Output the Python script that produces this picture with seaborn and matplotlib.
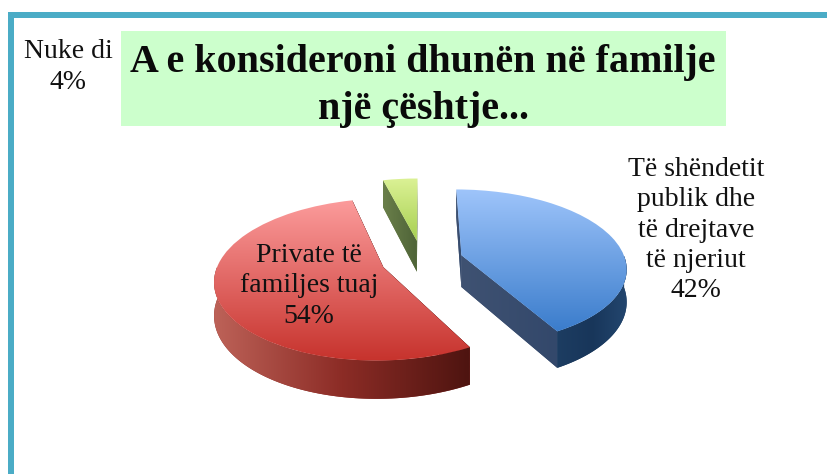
import numpy as np
import matplotlib
matplotlib.use("Agg")
import matplotlib.pyplot as plt
import seaborn as sns
from matplotlib.patches import PathPatch, Rectangle
from matplotlib.path import Path
from matplotlib.transforms import Transform

# ---- data ----
categories = ["Të shëndetit\npublik dhe\ntë drejtave\ntë njeriut", "Private të\nfamiljes tuaj", "Nuke di"]
values = [42, 54, 4]
explode = [0.25, 0.25, 0.26]
title_text = "A e konsideroni dhunën në familje\nnjë çështje..."

top_colors = [["#9fc5fb", "#3a7ccb"], ["#fc9c9c", "#c6322c"], ["#dcf296", "#a6cf50"]]
arc_colors = [["#1d3d62", "#18365a", "#23466f"], ["#bd6258", "#8c2c26", "#4e1410"], ["#5c7040", "#5c7040"]]
face_colors = [["#3f5272", "#33486b"], ["#4e1410", "#4e1410"], ["#6a7f4a", "#4f6438"]]

# ---- style ----
sns.set_theme(style="white")
plt.rcParams["font.family"] = ["Liberation Serif", "DejaVu Serif"]

W, H = 827, 474
CX, CY = 422.0, 260.0   # pie centre on the canvas
RX, RY = 164.0, 77.0    # radii of the tilted pie
PERSP = 0.15
DEPTH = 32.0


def project(u, v, d=0.0):
    u, v = np.asarray(u, float), np.asarray(v, float)
    w = 1 + PERSP * v
    return CX + RX * u / w, CY - RY * v / w + d / w


class Tilt(Transform):
    input_dims = output_dims = 2
    is_separable = False
    has_inverse = False

    def transform_non_affine(self, xy):
        xy = np.asarray(xy, float)
        return np.column_stack(project(xy[:, 0], xy[:, 1]))


fig = plt.figure(figsize=(W / 100, H / 100), dpi=100)
ax = fig.add_axes([0, 0, 1, 1])
wedges, _ = ax.pie(values, explode=explode, startangle=90, counterclock=False,
                   radius=1, wedgeprops=dict(facecolor="none", edgecolor="none"))
tilt = Tilt() + ax.transData


def gradient(patch, colors, horizontal, z):
    """Fill a patch with a seaborn blended gradient spanning its own extent."""
    verts = patch.get_path().vertices
    xs, ys = verts[:, 0], verts[:, 1]
    cmap = sns.blend_palette(colors, as_cmap=True)
    g = np.linspace(0, 1, 256)
    arr = g[None, :] if horizontal else g[:, None]
    im = ax.imshow(arr, cmap=cmap, aspect="auto", origin="upper", zorder=z, interpolation="bilinear",
                   extent=(xs.min(), xs.max(), ys.max(), ys.min()))
    im.set_clip_path(patch)


def poly(pts):
    pts = np.asarray(pts)
    return Path(np.vstack([pts, pts[:1]]), closed=True)


draw_order = [2, 0, 1]
z = 3
for i in draw_order:
    w = wedges[i]
    w.set_transform(tilt)
    cu, cv = w.center
    t1, t2 = w.theta1, w.theta2
    # extruded radial faces
    for a in (t2, t1):
        ru, rv = cu + w.r * np.cos(np.radians(a)), cv + w.r * np.sin(np.radians(a))
        p = poly([project(cu, cv), project(ru, rv), project(ru, rv, DEPTH), project(cu, cv, DEPTH)])
        pp = PathPatch(p, facecolor=face_colors[i][0], edgecolor="none", zorder=z)
        ax.add_patch(pp)
        gradient(pp, face_colors[i], True, z + 0.1)
    z += 1
    # extruded outer rim (front half only)
    th = np.radians(np.linspace(t1, t2, 240))
    th = th[np.sin(th) <= 0.0]
    if th.size > 1:
        ru, rv = cu + w.r * np.cos(th), cv + w.r * np.sin(th)
        tx, ty = project(ru, rv)
        bx, by = project(ru, rv, DEPTH)
        p = poly(np.vstack([np.column_stack([tx, ty]), np.column_stack([bx, by])[::-1]]))
        pp = PathPatch(p, facecolor=arc_colors[i][1], edgecolor="none", zorder=z)
        ax.add_patch(pp)
        gradient(pp, arc_colors[i], True, z + 0.1)
    z += 1
    # top surface: the pie wedge itself
    w.set_zorder(z)
    th = np.radians(np.linspace(t1, t2, 120))
    ox, oy = project(np.r_[cu, cu + w.r * np.cos(th)], np.r_[cv, cv + w.r * np.sin(th)])
    cmap = sns.blend_palette(top_colors[i], as_cmap=True)
    im = ax.imshow(np.linspace(0, 1, 256)[:, None], cmap=cmap, aspect="auto", origin="upper",
                   zorder=z + 0.1, interpolation="bilinear",
                   extent=(ox.min() - 1, ox.max() + 1, oy.max() + 1, oy.min() - 1))
    im.set_clip_path(w)
    z += 1

# frame
teal = "#4bacc6"
ax.add_patch(Rectangle((8, 12), W - 8, 5.5, facecolor=teal, edgecolor="none", zorder=1))
ax.add_patch(Rectangle((8, 12), 5.5, H - 12, facecolor=teal, edgecolor="none", zorder=1))

# title box
ax.add_patch(Rectangle((121, 31), 605, 95, facecolor="#ccffcc", edgecolor="none", zorder=1))
ax.text(423, 86, title_text, ha="center", va="center", fontsize=28.8, fontweight="bold",
        color="#0a0a0a", linespacing=1.33, zorder=30)

# labels
lab = dict(ha="center", va="center", color="#111111", linespacing=1.27, zorder=30)
ax.text(696, 230, f"{categories[0]}\n{values[0]}%", fontsize=20, **lab)
ax.text(309, 286, f"{categories[1]}\n{values[1]}%", fontsize=20, **lab)
ax.text(68, 67, f"{categories[2]}\n{values[2]}%", fontsize=20, **lab)

ax.set_aspect("auto")
ax.set_xlim(0, W)
ax.set_ylim(H, 0)
ax.set_axis_off()
fig.savefig("out.png", dpi=100, facecolor="white")
